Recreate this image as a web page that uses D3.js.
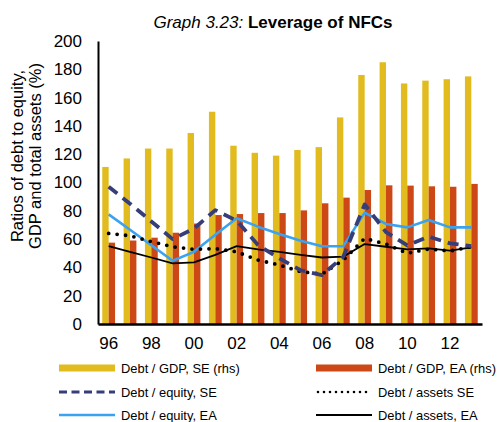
<!DOCTYPE html>
<html><head><meta charset="utf-8">
<script src="https://cdn.jsdelivr.net/npm/d3@7/dist/d3.min.js"></script>
<style>body{margin:0;background:#fff;} text{font-family:"Liberation Sans",Arial,sans-serif;}</style>
</head><body><svg id="c" width="499" height="422"></svg>
<script>
const years = ["96","97","98","99","00","01","02","03","04","05","06","07","08","09","10","11","12","13"];
const tickLabels = ["96","98","00","02","04","06","08","10","12"];
const debtGdpSE = [111,117,124,124,135,150,126,121,119,123,125,146,176,185,170,172,173,175];
const debtGdpEA = [57.5,59,61,64.5,71,77,77.7,78.4,78.4,80.3,85.3,89.3,94.7,98,97.8,97.3,97,99];
const debtEquitySE = [97,85,72.5,60,67.5,80.5,73,55.8,46.4,38,34.6,47.6,84.5,65,55.5,61.7,57,55];
const debtEquityEA = [77.5,66.6,55.7,44.7,51,63,74.7,68.8,63.6,58.9,55,55,78.7,70.7,68.3,73.5,68.3,68.3];
const debtAssetsSE = [64,62.4,58.2,54.6,52.8,53.3,51,45.2,41.7,37,35.3,45.2,60.5,56.5,50,53,51.6,54.6];
const debtAssetsEA = [55,51,47,42.9,43.6,48.8,55,52.8,51,48.8,47,47.6,56.5,54.6,52.8,53.5,51.8,54.2];
const yTicks = [0,20,40,60,80,100,120,140,160,180,200];

(function(){
const svg = d3.select("#c");
const mLeft = 98, mRight = 482, mTop = 41, mBottom = 324;
const x = d3.scaleBand().domain(years).range([mLeft, mRight]).paddingInner(0).paddingOuter(0);
const y = d3.scaleLinear().domain([0,200]).range([mBottom, mTop]);
const bw = x.bandwidth();
const barW = bw*0.3;

// title
const t = svg.append("text").attr("x", 273).attr("y", 28).attr("text-anchor","middle").attr("font-size", 17);
t.append("tspan").attr("font-style","italic").text("Graph 3.23: ");
t.append("tspan").attr("font-weight","bold").text("Leverage of NFCs");

// bars
svg.append("g").selectAll("rect").data(years).join("rect")
  .attr("x", d => x(d) + bw/2 - barW).attr("width", barW)
  .attr("y", (d,i) => y(debtGdpSE[i])).attr("height", (d,i) => mBottom - y(debtGdpSE[i]))
  .attr("fill", "#E2BC1F");
svg.append("g").selectAll("rect").data(years).join("rect")
  .attr("x", d => x(d) + bw/2).attr("width", barW)
  .attr("y", (d,i) => y(debtGdpEA[i])).attr("height", (d,i) => mBottom - y(debtGdpEA[i]))
  .attr("fill", "#CC4816");

const line = d3.line().x((d,i) => x(years[i]) + bw/2).y(d => y(d));
const styles = [
  {data: debtAssetsEA, color:"#000", w:1.8, dash:null, cap:"butt"},
  {data: debtEquityEA, color:"#3AA2F0", w:2.6, dash:null, cap:"butt"},
  {data: debtAssetsSE, color:"#000", w:3.8, dash:"0 8.5", cap:"round"},
  {data: debtEquitySE, color:"#363D78", w:3.8, dash:"11 7", cap:"butt"}
];
styles.forEach(s => {
  svg.append("path").datum(s.data).attr("d", line).attr("fill","none")
    .attr("stroke", s.color).attr("stroke-width", s.w)
    .attr("stroke-dasharray", s.dash).attr("stroke-linecap", s.cap).attr("stroke-linejoin","round");
});

// axes
const yAxis = d3.axisLeft(y).tickValues(yTicks).tickSize(0).tickPadding(16);
const gy = svg.append("g").attr("transform", `translate(${mLeft},0)`).call(yAxis);
gy.select(".domain").attr("stroke","#000").attr("stroke-width",2);
gy.selectAll("text").attr("font-size", 17).attr("fill","#000").attr("font-family","Liberation Sans, Arial, sans-serif");

const xAxis = d3.axisBottom(x).tickValues(tickLabels).tickSize(0).tickPadding(13);
const gx = svg.append("g").attr("transform", `translate(0,${mBottom})`).call(xAxis);
gx.select(".domain").attr("stroke","#000").attr("stroke-width",2.5);
gx.selectAll("text").attr("font-size", 17).attr("fill","#000").attr("font-family","Liberation Sans, Arial, sans-serif");

// y title
const yt = svg.append("text").attr("transform","translate(23,156) rotate(-90)").attr("text-anchor","middle").attr("font-size",16.5);
yt.append("tspan").attr("x",0).attr("dy",0).text("Ratios of debt to equity,");
yt.append("tspan").attr("x",0).attr("dy",18).text("GDP and total assets (%)");

// legend
const legend = [
  {label:"Debt / GDP, SE (rhs)", type:"bar", color:"#E2BC1F", col:0, row:0},
  {label:"Debt / GDP, EA (rhs)", type:"bar", color:"#CC4816", col:1, row:0},
  {label:"Debt / equity, SE", type:"line", color:"#363D78", w:3.2, dash:"8 4.5", cap:"butt", col:0, row:1},
  {label:"Debt / assets SE", type:"line", color:"#000", w:2.6, dash:"0 6", cap:"round", col:1, row:1},
  {label:"Debt / equity, EA", type:"line", color:"#3AA2F0", w:2.4, dash:null, cap:"butt", col:0, row:2},
  {label:"Debt / assets, EA", type:"line", color:"#000", w:1.8, dash:null, cap:"butt", col:1, row:2}
];
const colX = [59, 316], rowY = [368, 392, 415];
legend.forEach(l => {
  const x0 = colX[l.col], yy = rowY[l.row];
  if (l.type === "bar") {
    svg.append("rect").attr("x", x0).attr("y", yy-3.5).attr("width", 56).attr("height", 7).attr("fill", l.color);
  } else {
    svg.append("line").attr("x1", x0 + (l.cap==="round"?2:0)).attr("x2", x0+56).attr("y1", yy).attr("y2", yy)
      .attr("stroke", l.color).attr("stroke-width", l.w).attr("stroke-dasharray", l.dash).attr("stroke-linecap", l.cap);
  }
  svg.append("text").attr("x", x0+62).attr("y", yy+4.5).attr("font-size", 12.9).attr("fill","#000").text(l.label);
});
})();
</script></body></html>
